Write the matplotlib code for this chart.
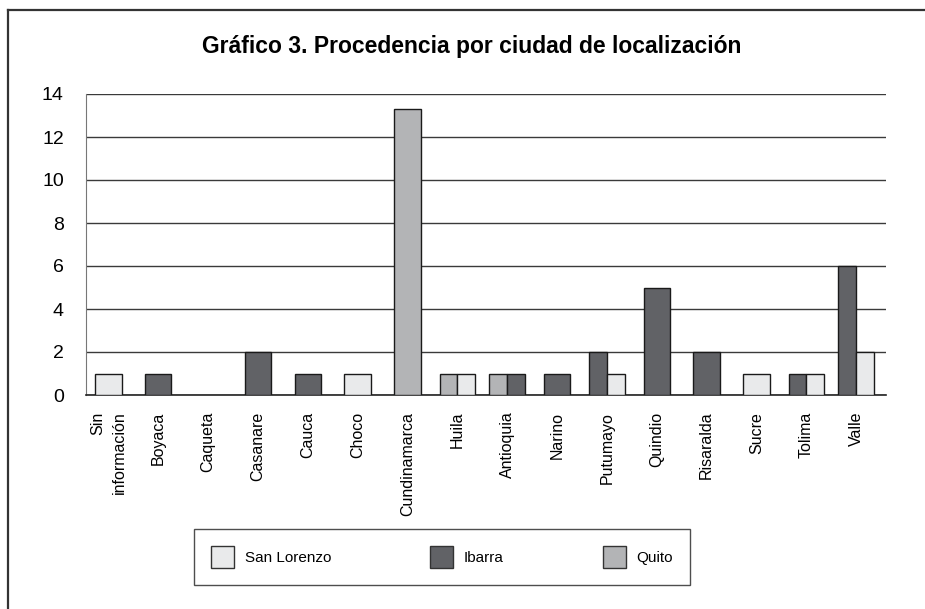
import matplotlib
matplotlib.use("Agg")
import matplotlib.pyplot as plt
from matplotlib.patches import Patch
from matplotlib.lines import Line2D

plt.rcParams['font.family'] = ['Liberation Sans Narrow', 'Liberation Sans', 'DejaVu Sans']

# Data
categories = ["Sin\ninformación", "Boyaca", "Caqueta", "Casanare", "Cauca", "Choco",
              "Cundinamarca", "Huila", "Antioquia", "Narino", "Putumayo", "Quindio",
              "Risaralda", "Sucre", "Tolima", "Valle"]
san_lorenzo = [1, 0, 0, 0, 0, 1, 0, 1, 0, 0, 1, 0, 0, 1, 1, 2]
ibarra = [0, 1, 0, 2, 1, 0, 0, 0, 1, 1, 2, 5, 2, 0, 1, 6]
quito = [0, 0, 0, 0, 0, 0, 13.3, 1, 1, 0, 0, 0, 0, 0, 0, 0]
y_ticks = [0, 2, 4, 6, 8, 10, 12, 14]

series_names = ["San Lorenzo", "Ibarra", "Quito"]
colors = {"San Lorenzo": "#e9eaeb", "Ibarra": "#616266", "Quito": "#b3b4b6"}
# bars within a category are drawn left to right in this order
draw_order = [("Quito", quito), ("Ibarra", ibarra), ("San Lorenzo", san_lorenzo)]

fig = plt.figure(figsize=(9.25, 6.09), dpi=100)
ax = fig.add_axes([86 / 925, 1 - 395 / 609, 800 / 925, 301 / 609])

for i in range(len(categories)):
    present = [(name, vals[i]) for name, vals in draw_order if vals[i] > 0]
    n = len(present)
    if n == 0:
        continue
    width = 0.53 if n == 1 else 0.355
    start = i - width * n / 2 + width / 2
    for k, (name, v) in enumerate(present):
        ax.bar(start + k * width, v, width=width, color=colors[name],
               edgecolor="#1a1a1a", linewidth=1.0, zorder=3)

ax.set_xlim(-0.45, 15.6)
ax.set_ylim(0, 14)
ax.set_yticks(y_ticks)
ax.set_yticklabels([str(t) for t in y_ticks], fontsize=14)
ax.tick_params(axis='y', length=0, pad=16)
ax.yaxis.grid(True, color="#3a3a3a", linewidth=1.0, zorder=1)
ax.set_axisbelow(True)

ax.set_xticks(range(len(categories)))
ax.set_xticklabels(categories, rotation=90, fontsize=11.5, va='top', ha='center',
                   multialignment='right', linespacing=1.6)
ax.tick_params(axis='x', length=0, pad=12)

for side in ["top", "right"]:
    ax.spines[side].set_visible(False)
ax.spines["left"].set_color("#777777")
ax.spines["bottom"].set_color("#222222")
ax.spines["bottom"].set_linewidth(1.2)

fig.text(472 / 925, 1 - 47 / 609, "Gráfico 3. Procedencia por ciudad de localización",
         ha='center', va='center', fontsize=16.5, fontweight='bold')

handles = [Patch(facecolor=colors[n], edgecolor="#333333", linewidth=1.0) for n in series_names]
leg = fig.legend(handles, series_names, loc='center', ncol=3,
                 bbox_to_anchor=(442 / 925, 1 - 557 / 609), fontsize=11,
                 frameon=True, fancybox=False, edgecolor="#222222",
                 handlelength=1.5, handleheight=1.9, columnspacing=6.5,
                 borderpad=1.1, handletextpad=0.7)
leg.get_frame().set_linewidth(1.0)

# outer frame (top and left edges)
fig.add_artist(Line2D([8 / 925, 1.0], [1 - 10 / 609, 1 - 10 / 609],
                      transform=fig.transFigure, color="#333333", linewidth=1.6))
fig.add_artist(Line2D([8 / 925, 8 / 925], [0, 1 - 10 / 609],
                      transform=fig.transFigure, color="#333333", linewidth=1.6))

fig.savefig("out.png", dpi=100)
